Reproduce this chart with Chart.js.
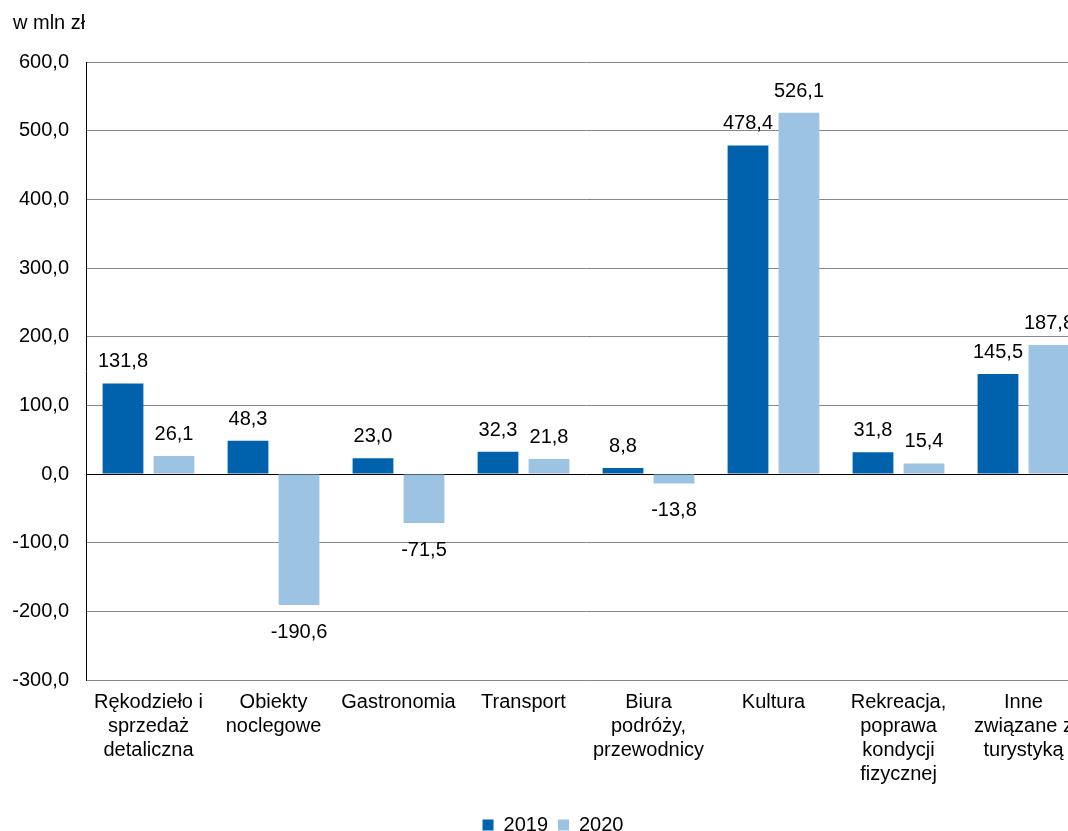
<!DOCTYPE html>
<html lang="pl">
<head>
<meta charset="utf-8">
<title>w mln zł</title>
<script src="https://cdn.jsdelivr.net/npm/chart.js@4"></script>
<style>
  html, body { margin: 0; padding: 0; background: #fff; overflow: hidden; }
  body { width: 1068px; height: 831px; }
  canvas { display: block; }
</style>
</head>
<body>
<canvas id="chart" width="1086" height="845"></canvas>
<script>
// data
const categories = [
  ['Rękodzieło i', 'sprzedaż', 'detaliczna'],
  ['Obiekty', 'noclegowe'],
  ['Gastronomia'],
  ['Transport'],
  ['Biura', 'podróży,', 'przewodnicy'],
  ['Kultura'],
  ['Rekreacja,', 'poprawa', 'kondycji', 'fizycznej'],
  ['Inne', 'związane z', 'turystyką']
];
const values2019 = [131.8, 48.3, 23.0, 32.3, 8.8, 478.4, 31.8, 145.5];
const values2020 = [26.1, -190.6, -71.5, 21.8, -13.8, 526.1, 15.4, 187.8];
const seriesNames = ['2019', '2020'];
const yMin = -300, yMax = 600, yStep = 100;
const unitLabel = 'w mln zł';

const FONT = 'Liberation Sans, Arial, sans-serif';
const fmt = v => v.toFixed(1).replace('.', ',');

// value labels above / below the bars
const barLabels = {
  id: 'barLabels',
  afterDatasetsDraw(chart) {
    const ctx = chart.ctx;
    ctx.save();
    ctx.font = '20px ' + FONT;
    ctx.fillStyle = '#000';
    ctx.textAlign = 'center';
    ctx.textBaseline = 'alphabetic';
    chart.data.datasets.forEach((ds, i) => {
      chart.getDatasetMeta(i).data.forEach((bar, j) => {
        const v = ds.data[j];
        const y = v >= 0 ? bar.y - 16 : bar.y + 33;
        ctx.fillText(fmt(v), bar.x, y);
      });
    });
    ctx.restore();
  }
};

// unit text in the top-left corner, legend nudged to the reference position
const extras = {
  id: 'extras',
  afterLayout(chart) {
    chart.legend.left += 10;
    chart.legend.right += 10;
  },
  afterDraw(chart) {
    const ctx = chart.ctx;
    ctx.save();
    ctx.font = '20px ' + FONT;
    ctx.fillStyle = '#000';
    ctx.textBaseline = 'alphabetic';
    ctx.fillText(unitLabel, 13, 29);
    ctx.restore();
  }
};

new Chart(document.getElementById('chart'), {
  type: 'bar',
  data: {
    labels: categories,
    datasets: [
      { label: seriesNames[0], data: values2019, backgroundColor: '#0062ac' },
      { label: seriesNames[1], data: values2020, backgroundColor: '#9dc3e3' }
    ]
  },
  options: {
    responsive: false,
    animation: false,
    devicePixelRatio: 1,
    layout: { padding: { top: 62, left: 0, right: 0, bottom: 0 } },
    datasets: { bar: { categoryPercentage: 0.816, barPercentage: 0.8 } },
    plugins: {
      tooltip: { enabled: false },
      legend: {
        position: 'bottom',
        labels: {
          color: '#000',
          font: { family: FONT, size: 20, lineHeight: 1.2 },
          boxWidth: 11,
          boxHeight: 11,
          padding: 10
        }
      }
    },
    scales: {
      x: {
        grid: { display: true, drawOnChartArea: false, drawTicks: false, tickLength: 0 },
        border: { color: '#868686', width: 1 },
        ticks: {
          color: '#000',
          padding: 10,
          maxRotation: 0,
          autoSkip: false,
          font: { family: FONT, size: 20, lineHeight: 1.2 }
        },
        afterFit(scale) { scale.height = 125; }
      },
      y: {
        min: yMin,
        max: yMax,
        grid: {
          drawTicks: false,
          tickLength: 0,
          color: ctx => ctx.tick && ctx.tick.value === 0 ? '#000' : '#878787'
        },
        border: { color: '#000', width: 1 },
        ticks: {
          stepSize: yStep,
          color: '#000',
          padding: 17,
          font: { family: FONT, size: 20 },
          callback: v => fmt(v)
        },
        afterFit(scale) { scale.width = 86; }
      }
    }
  },
  plugins: [barLabels, extras]
});
</script>
</body>
</html>
